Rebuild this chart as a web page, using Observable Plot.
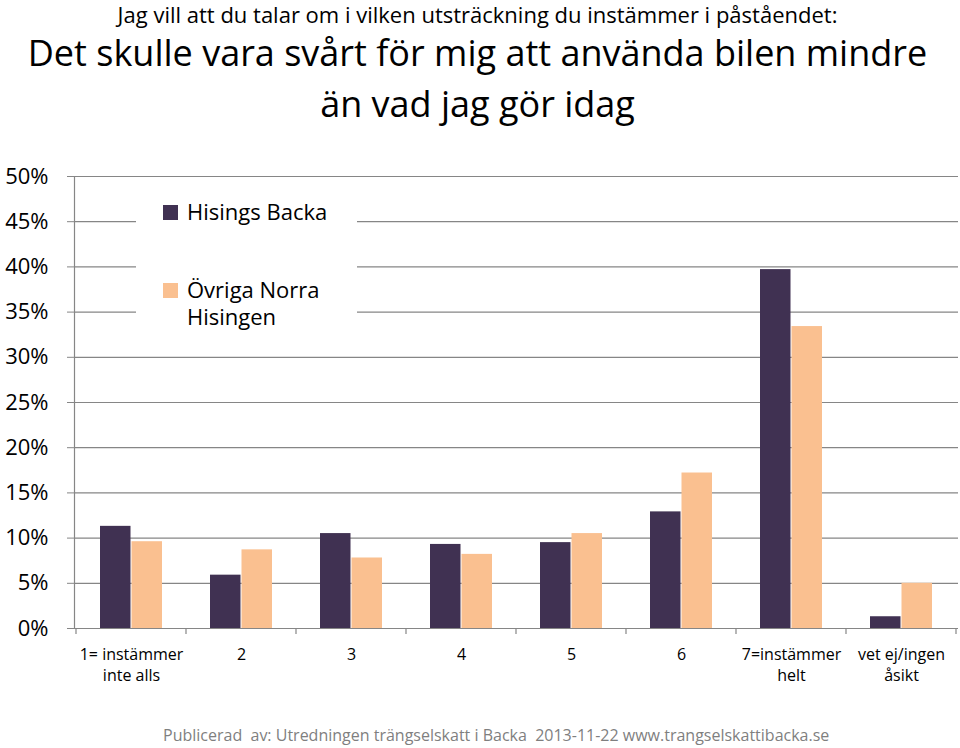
<!DOCTYPE html>
<html>
<head>
<meta charset="utf-8">
<script src="https://cdn.jsdelivr.net/npm/d3@7"></script>
<script src="https://cdn.jsdelivr.net/npm/@observablehq/plot@0.6"></script>
<style>
  html, body { margin: 0; padding: 0; background: #fff; }
  #page { position: relative; width: 960px; height: 748px; overflow: hidden; font-family: "Open Sans", sans-serif; color: #000; }
  .t { position: absolute; left: 0; width: 955px; text-align: center; line-height: 1; white-space: nowrap; }
  #chart { position: absolute; left: 0; top: 150px; }
  #legend { position: absolute; left: 136px; top: 190px; width: 221px; height: 150px; background: #fff; }
  .sw { position: absolute; width: 15px; height: 15px; }
  .lt { position: absolute; left: 51px; font-size: 22px; line-height: 27px; white-space: nowrap; }
  #footer { position: absolute; left: 163px; top: 727px; font-size: 16px; line-height: 1; color: #7f7f7f; white-space: pre; }
</style>
</head>
<body>
<div id="page">
  <div class="t" id="t1" style="top:0px;font-size:22px;line-height:1.3;"></div>
  <div class="t" id="t2" style="top:35px;font-size:36px;"></div>
  <div class="t" id="t3" style="top:86px;font-size:36px;"></div>
  <div id="chart"></div>
  <div id="legend"></div>
  <div id="footer"></div>
</div>
<script>
const titleLines = [
  "Jag vill att du talar om i vilken utsträckning du instämmer i påståendet:",
  "Det skulle vara svårt för mig att använda bilen mindre",
  "än vad jag gör idag"
];
const footerText = "Publicerad  av: Utredningen trängselskatt i Backa  2013-11-22 www.trangselskattibacka.se";

const categories = ["1= instämmer\ninte alls", "2", "3", "4", "5", "6", "7=instämmer\nhelt", "vet ej/ingen\nåsikt"];
const seriesNames = ["Hisings Backa", "Övriga Norra Hisingen"];
const legendLabels = ["Hisings Backa", "Övriga Norra\nHisingen"];
const seriesColors = ["#403152", "#fac090"];
const hisingsBacka = [11.3, 5.9, 10.5, 9.3, 9.5, 12.9, 39.7, 1.3];
const ovrigaNorra = [9.6, 8.7, 7.8, 8.2, 10.5, 17.2, 33.4, 5.0];
const yTicks = [0, 5, 10, 15, 20, 25, 30, 35, 40, 45, 50];

document.getElementById("t1").textContent = titleLines[0];
document.getElementById("t2").textContent = titleLines[1];
document.getElementById("t3").textContent = titleLines[2];
document.getElementById("footer").textContent = footerText;

const rows = categories.map((c, i) => ({cat: c, hb: hisingsBacka[i], on: ovrigaNorra[i]}));
const gray = "#868686";

const chart = Plot.plot({
  width: 960,
  height: 560,
  marginTop: 26,
  marginBottom: 82,
  marginLeft: 74,
  marginRight: 2,
  style: {fontFamily: "'Open Sans', sans-serif", color: "#000", background: "#fff"},
  x: {domain: categories, padding: 0},
  y: {domain: [0, 50], label: null},
  marks: [
    Plot.gridY(yTicks.filter(d => d > 0), {stroke: gray, strokeOpacity: 1, strokeWidth: 1.2}),
    Plot.barY(rows, {x: "cat", y: "hb", fill: seriesColors[0], insetLeft: 24, insetRight: 55.5}),
    Plot.barY(rows, {x: "cat", y: "on", fill: seriesColors[1], insetLeft: 55.5, insetRight: 24}),
    Plot.ruleY([0], {stroke: gray, strokeWidth: 1.2}),
    Plot.frame({anchor: "left", stroke: gray, strokeWidth: 1.2}),
    Plot.axisY({ticks: yTicks, tickFormat: d => d + "%", tickSize: 7, tickPadding: 19, fontSize: 22, stroke: gray, fill: "#000", label: null}),
    Plot.axisX({tickSize: 0, tickPadding: 17, fontSize: 16, lineHeight: 1.3, fill: "#000", label: null})
  ]
});
document.getElementById("chart").appendChild(chart);

// category boundary tick marks below the baseline, from the band scale
const sx = chart.scale("x");
const sy = chart.scale("y");
const bounds = categories.map(c => sx.apply(c)).concat([sx.apply(categories[categories.length - 1]) + sx.bandwidth]);
const y0 = sy.apply(0);
d3.select(chart).append("g")
  .selectAll("line").data(bounds).join("line")
  .attr("x1", d => d).attr("x2", d => d)
  .attr("y1", y0).attr("y2", y0 + 6)
  .attr("stroke", gray).attr("stroke-width", 1.2);

// legend
const leg = d3.select("#legend");
const swTops = [15, 93];
const textTops = [8, 86];
seriesNames.forEach((s, i) => {
  leg.append("div").attr("class", "sw").style("left", "27px").style("top", swTops[i] + "px").style("background", seriesColors[i]);
  leg.append("div").attr("class", "lt").style("top", textTops[i] + "px").html(legendLabels[i].replace("\n", "<br>"));
});
</script>
</body>
</html>
